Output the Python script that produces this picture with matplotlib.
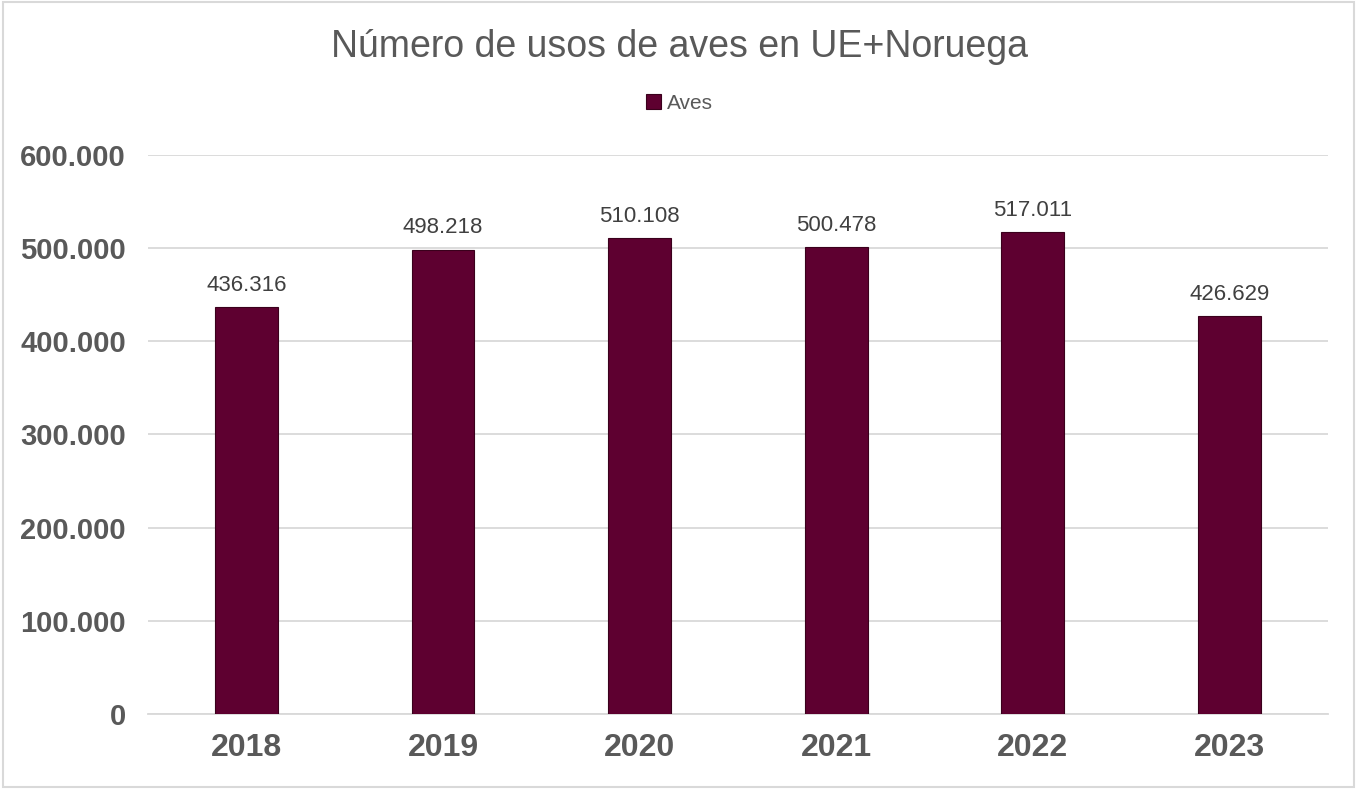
import matplotlib
matplotlib.use("Agg")
import matplotlib.pyplot as plt
from matplotlib.patches import Rectangle

years = ["2018", "2019", "2020", "2021", "2022", "2023"]
aves = [436316, 498218, 510108, 500478, 517011, 426629]
yticks = [0, 100000, 200000, 300000, 400000, 500000, 600000]

def fmt(v):
    return f"{v:,}".replace(",", ".")

plt.rcParams['font.family'] = ['Liberation Sans', 'DejaVu Sans']
fig = plt.figure(figsize=(13.59, 7.89), dpi=100)
ax = fig.add_axes([0.109, 0.095, 0.868, 0.709])

bar_color = "#5E0030"
bars = ax.bar(years, aves, width=0.32, color=bar_color, edgecolor="#3a001c", linewidth=0.8, label="Aves", zorder=3)
for b, v in zip(bars, aves):
    ax.annotate(fmt(v), (b.get_x() + b.get_width() / 2, v), xytext=(0, 8), textcoords="offset points",
                ha="center", va="bottom", fontsize=16, color="#404040")

ax.set_ylim(0, 600000)
ax.set_xlim(-0.5, 5.5)
ax.set_yticks(yticks)
ax.set_yticklabels([fmt(t) for t in yticks], fontsize=21, fontweight="bold", color="#595959")
ax.tick_params(axis="x", labelsize=23, labelcolor="#595959", length=0, pad=14)
for lab in ax.get_xticklabels():
    lab.set_fontweight("bold")
ax.tick_params(axis="y", length=0, pad=16)
ax.grid(axis="y", color="#D9D9D9", linewidth=1.3, zorder=0)
for s in ["top", "right", "left"]:
    ax.spines[s].set_visible(False)
ax.spines["bottom"].set_color("#D9D9D9")
ax.spines["bottom"].set_linewidth(1.3)

fig.text(0.5, 0.94, "Número de usos de aves en UE+Noruega", ha="center", va="center",
         fontsize=27, color="#595959")
leg = fig.legend(handles=[bars], labels=["Aves"], loc="center", bbox_to_anchor=(0.5, 0.869),
                 frameon=False, fontsize=15, handlelength=0.7, handleheight=0.7, handletextpad=0.3)
for t in leg.get_texts():
    t.set_color("#595959")

fig.patches.append(Rectangle((0.002, 0.003), 0.994, 0.994, transform=fig.transFigure,
                             fill=False, edgecolor="#D9D9D9", linewidth=1.5))

fig.savefig("out.png", dpi=100, facecolor="white")
